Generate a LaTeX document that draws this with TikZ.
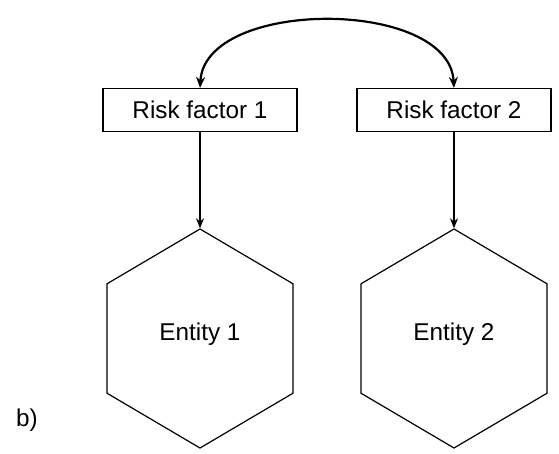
\documentclass[tikz,border=0pt]{standalone}
\usepackage{fontspec}
\setmainfont{Liberation Sans}
\usetikzlibrary{shapes.geometric,arrows.meta}
\begin{document}
\begin{tikzpicture}[x=1pt,y=-1pt,
  every node/.style={font=\fontsize{24.3}{28}\selectfont},
  riskbox/.style={draw,line width=1.2pt,minimum width=194pt,minimum height=43pt,inner sep=0pt},
  entity/.style={draw,line width=1.2pt,regular polygon,regular polygon sides=6,shape border rotate=30,minimum size=219pt,inner sep=0pt,xscale=0.98},
  link/.style={line width=1.3pt,-{Stealth[length=10pt,width=8pt]}},
  bond/.style={line width=2.2pt,{Stealth[length=11pt,width=9pt]}-{Stealth[length=11pt,width=9pt]}}]
\useasboundingbox (0,0) rectangle (559,453);
\node[riskbox] (r1) at (200,110) {Risk factor 1};
\node[riskbox] (r2) at (454,110) {Risk factor 2};
\node[entity] (e1) at (200,338.5) {};
\node[entity] (e2) at (454,338.5) {};
\node (t1) at (200,334) {Entity 1};
\node (t2) at (454,334) {Entity 2};
\node (lb) at (27,420) {b)};
\draw[link] (r1.south) -- (e1.corner 1);
\draw[link] (r2.south) -- (e2.corner 1);
\draw[bond] (r1.north) .. controls (205,-2) and (449,-2) .. (r2.north);
\end{tikzpicture}
\end{document}
